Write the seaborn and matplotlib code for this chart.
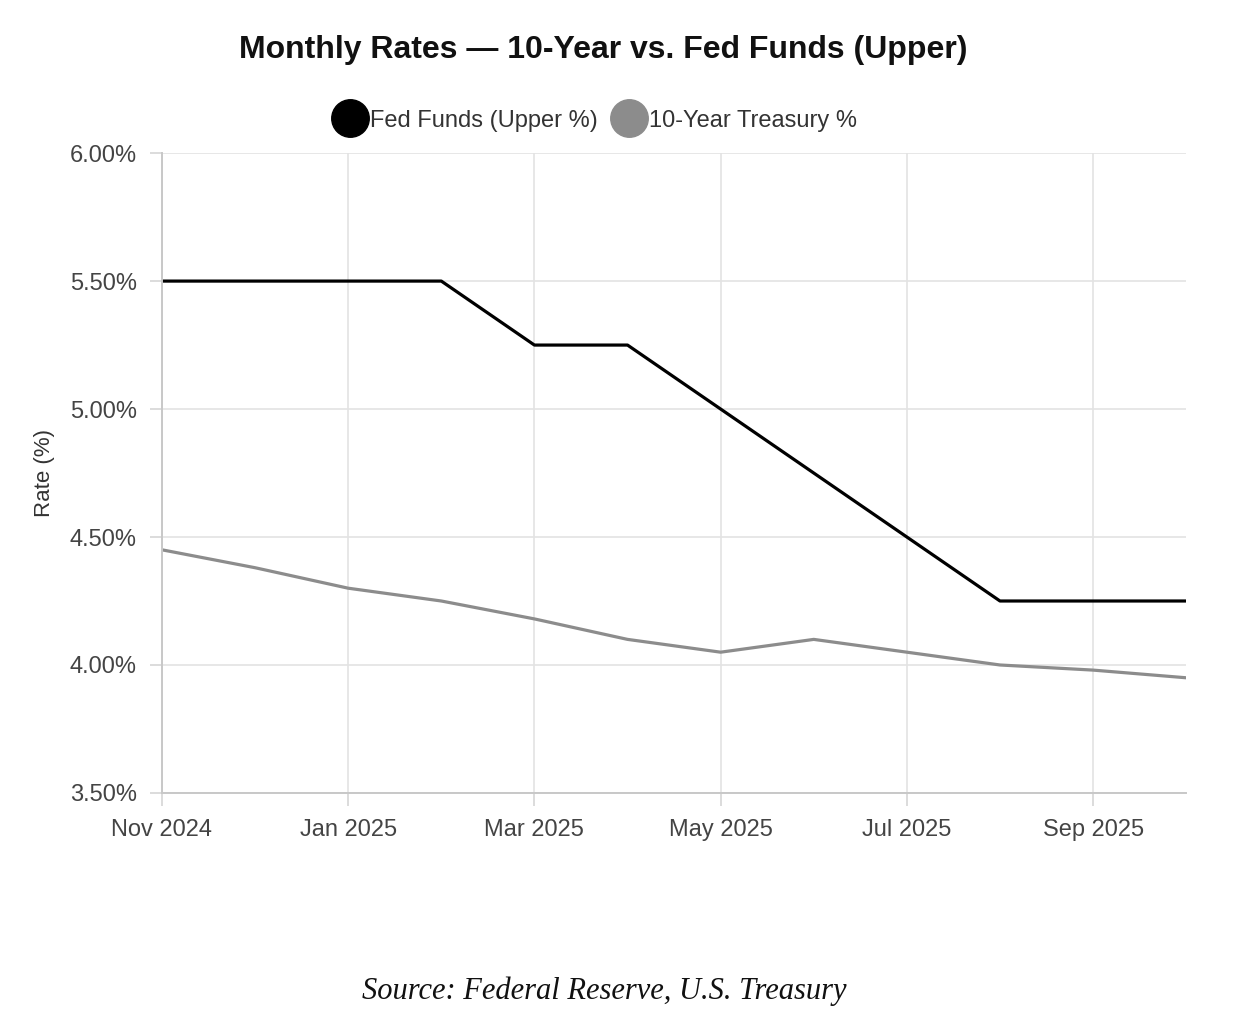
import pandas as pd
import matplotlib.pyplot as plt
import seaborn as sns
from matplotlib.lines import Line2D

sns.set_theme(style="white")
plt.rcParams['font.family'] = ['Liberation Sans', 'DejaVu Sans']

months = ["Nov 2024", "Dec 2024", "Jan 2025", "Feb 2025", "Mar 2025", "Apr 2025",
          "May 2025", "Jun 2025", "Jul 2025", "Aug 2025", "Sep 2025", "Oct 2025"]
fed_funds = [5.50, 5.50, 5.50, 5.50, 5.25, 5.25, 5.00, 4.75, 4.50, 4.25, 4.25, 4.25]
ten_year = [4.45, 4.38, 4.30, 4.25, 4.18, 4.10, 4.05, 4.10, 4.05, 4.00, 3.98, 3.95]

df = pd.DataFrame({
    "month": list(range(len(months))) * 2,
    "rate": fed_funds + ten_year,
    "series": ["Fed Funds (Upper %)"] * len(months) + ["10-Year Treasury %"] * len(months),
})
colors = {"Fed Funds (Upper %)": "#000000", "10-Year Treasury %": "#8c8c8c"}

fig = plt.figure(figsize=(12.46, 10.14), dpi=100)
ax = fig.add_axes([0.130, 0.218, 0.822, 0.631])

sns.lineplot(data=df, x="month", y="rate", hue="series", palette=colors,
             linewidth=2.3, legend=False, ax=ax)

ax.set_xlim(0, len(months) - 1)
ax.set_ylim(3.5, 6.0)
ax.set_xticks(range(0, len(months), 2))
ax.set_xticklabels(months[::2])
yt = [3.5, 4.0, 4.5, 5.0, 5.5, 6.0]
ax.set_yticks(yt)
ax.set_yticklabels([f"{v:.2f}%" for v in yt])
ax.tick_params(axis="both", labelsize=17, labelcolor="#444444", color="#d5d5d5",
               length=9, width=1.2, direction="out", bottom=True, left=True)
ax.tick_params(axis="y", pad=9)
ax.tick_params(axis="x", pad=10)
ax.grid(True, color="#e3e3e3", linewidth=1.2)
for side in ["top", "right"]:
    ax.spines[side].set_visible(False)
for side in ["left", "bottom"]:
    ax.spines[side].set_color("#c8c8c8")
    ax.spines[side].set_linewidth(1.4)
ax.set_xlabel("")
ax.set_ylabel("Rate (%)", fontsize=16, color="#333333", labelpad=11)

handles = [Line2D([], [], linestyle="none", marker="o", markersize=27,
                  markerfacecolor=c, markeredgecolor=c) for c in colors.values()]
fig.legend(handles, list(colors.keys()), loc="center", bbox_to_anchor=(0.479, 0.881),
           ncol=2, frameon=False, fontsize=17, handlelength=1.1, handletextpad=0.3,
           columnspacing=0.75, labelcolor="#333333")

fig.text(0.484, 0.951, "Monthly Rates — 10-Year vs. Fed Funds (Upper)", ha="center",
         va="center", fontsize=23, fontweight="bold", color="#111111")
fig.text(0.485, 0.022, "Source: Federal Reserve, U.S. Treasury", ha="center",
         va="center", fontsize=22, fontstyle="italic", family="Liberation Serif",
         color="#111111")

fig.savefig("out.png", dpi=100, facecolor="white")
